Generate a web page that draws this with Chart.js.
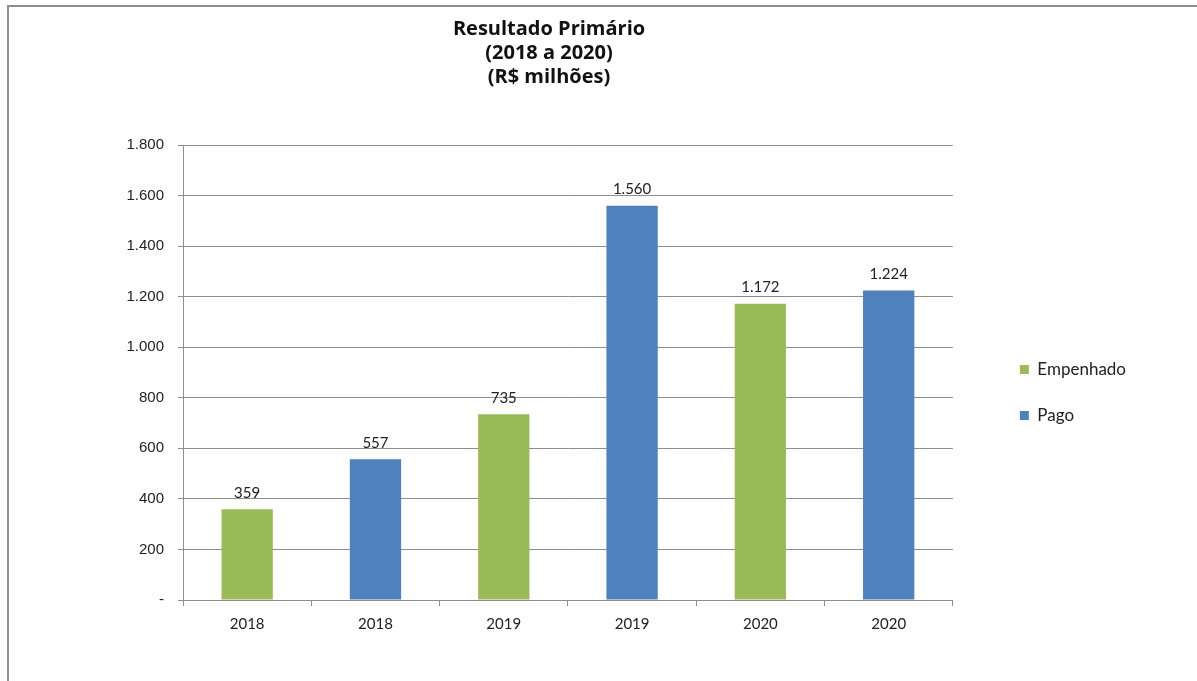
<!DOCTYPE html>
<html>
<head>
<meta charset="utf-8">
<script src="https://cdn.jsdelivr.net/npm/chart.js@4/dist/chart.umd.min.js"></script>
<style>
  html, body { margin: 0; padding: 0; background: #fff; overflow: hidden; }
  #wrap { position: relative; width: 1197px; height: 681px; }
  #frame { position: absolute; left: 7px; top: 5px; width: 1300px; height: 800px;
           border-left: 2px solid #8e8e8e; border-top: 2px solid #8e8e8e; }
  canvas { position: absolute; left: 0; top: 0; }
</style>
</head>
<body>
<div id="wrap">
  <div id="frame"></div>
  <canvas id="chart" width="1197" height="681"></canvas>
</div>
<script>
// categorias e valores (R$ milhões)
const anos = ['2018', '2018', '2019', '2019', '2020', '2020'];
const empenhado = [359, null, 735, null, 1172, null];
const pago = [null, 557, null, 1560, null, 1224];
const titulo = ['Resultado Primário', '(2018 a 2020)', '(R$ milhões)'];

function fmt(v) {
  if (v === 0) return '-';
  return String(v).replace(/\B(?=(\d{3})+(?!\d))/g, '.');
}

// rótulos de valor em cima das barras
const rotulos = {
  id: 'rotulos',
  afterDatasetsDraw(chart) {
    const ctx = chart.ctx;
    ctx.save();
    ctx.font = '15px Lato';
    ctx.fillStyle = '#222';
    ctx.textAlign = 'center';
    ctx.textBaseline = 'bottom';
    chart.data.datasets.forEach((ds, i) => {
      chart.getDatasetMeta(i).data.forEach((bar, j) => {
        const v = ds.data[j];
        if (v == null) return;
        ctx.fillText(fmt(v), bar.x, bar.y - 9);
      });
    });
    ctx.restore();
  }
};

// empurra a legenda para a posição do original
const moveLegenda = {
  id: 'moveLegenda',
  afterLayout(chart) {
    const lg = chart.legend;
    const dx = 38, dy = 20;
    lg.left += dx; lg.right += dx;
    lg.top += dy; lg.bottom += dy;
  }
};

const ctx = document.getElementById('chart').getContext('2d');
new Chart(ctx, {
  type: 'bar',
  data: {
    labels: anos,
    datasets: [
      {
        label: 'Empenhado',
        data: empenhado,
        backgroundColor: '#9BBB59',
        barPercentage: 0.4,
        categoryPercentage: 1
      },
      {
        label: 'Pago',
        data: pago,
        backgroundColor: '#4F81BD',
        barPercentage: 0.4,
        categoryPercentage: 1
      }
    ]
  },
  plugins: [rotulos, moveLegenda],
  options: {
    responsive: false,
    animation: false,
    layout: { padding: { left: 0, right: 99, top: 0, bottom: 39 } },
    plugins: {
      title: {
        display: true,
        text: titulo,
        color: '#111',
        font: { family: 'Open Sans', size: 20, weight: 'bold', lineHeight: 1.2 },
        padding: { top: 17, bottom: 56 }
      },
      legend: {
        position: 'right',
        fullSize: false,
        labels: {
          boxWidth: 9,
          boxHeight: 9,
          padding: 29,
          color: '#222',
          font: { family: 'Lato', size: 17 }
        }
      },
      tooltip: { enabled: false }
    },
    scales: {
      x: {
        stacked: true,
        grid: { drawOnChartArea: false, drawTicks: true, tickLength: 6, color: '#8e8e8e' },
        border: { color: '#8e8e8e' },
        ticks: { color: '#222', padding: 9, font: { family: 'Lato', size: 15 } }
      },
      y: {
        min: 0,
        max: 1800,
        afterFit(scale) { scale.width = 183; },
        grid: { color: '#8e8e8e', tickLength: 5 },
        border: { color: '#8e8e8e' },
        ticks: {
          stepSize: 200,
          padding: 14,
          color: '#222',
          font: { family: 'Liberation Sans', size: 15 },
          callback: v => fmt(v)
        }
      }
    }
  }
});
</script>
</body>
</html>
